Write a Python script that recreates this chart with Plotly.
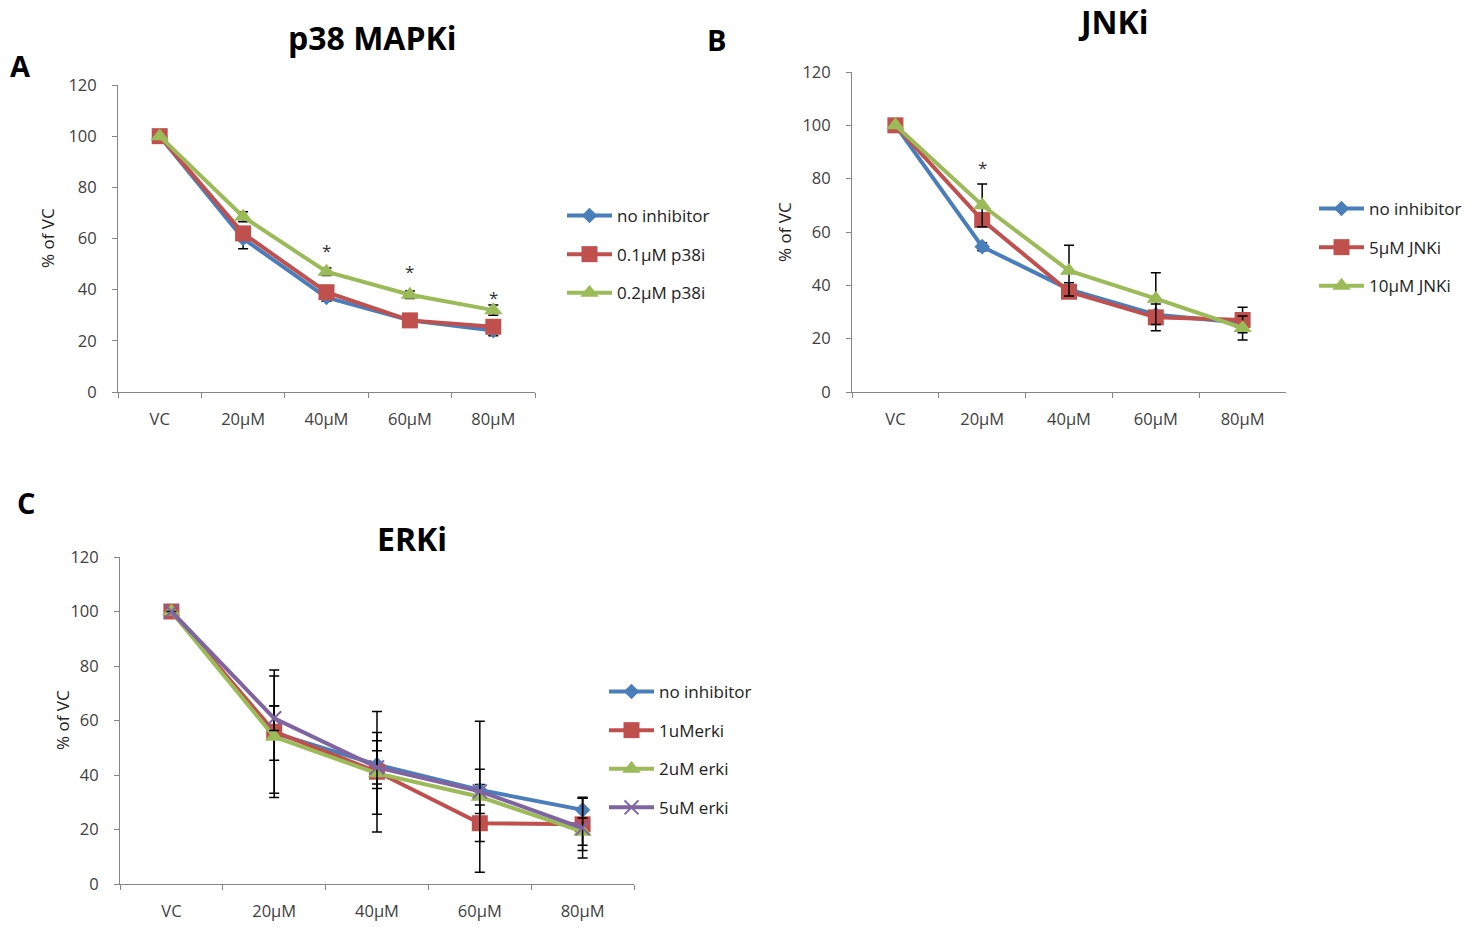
import plotly.graph_objects as go

W, H = 1481, 927

categories = ["VC", "20µM", "40µM", "60µM", "80µM"]

# Panel A: p38 MAPKi
a_names = ["no inhibitor", "0.1µM p38i", "0.2µM p38i"]
a_no_inh = [100, 60, 37, 28, 24]
a_no_inh_err = [0, 4, 1.5, 1, 2]
a_p38_01 = [100, 62, 39, 28, 25.5]
a_p38_01_err = [0, 2, 1.5, 1.5, 1.5]
a_p38_02 = [100, 68.5, 47, 38, 32]
a_p38_02_err = [0, 2, 1.5, 1.5, 2]
a_stars = [("40µM", 55.5), ("60µM", 47), ("80µM", 37)]

# Panel B: JNKi
b_names = ["no inhibitor", "5µM JNKi", "10µM JNKi"]
b_no_inh = [100, 54.5, 38.5, 29, 26]
b_no_inh_err = [0, 1.5, 2.5, 1.5, 1.5]
b_jnk_5 = [100, 64.5, 37.6, 28, 27]
b_jnk_5_err = [0, 2, 2, 5, 4.8]
b_jnk_10 = [100, 70, 45.5, 35, 24]
b_jnk_10_err = [0, 8, 9.5, 9.7, 4.5]
b_stars = [("20µM", 84)]

# Panel C: ERKi
c_names = ["no inhibitor", "1uMerki", "2uM erki", "5uM erki"]
c_no_inh = [100, 55.4, 43.8, 34.5, 27.2]
c_no_inh_err = [0, 10, 8.8, 2, 4.6]
c_erk_1 = [100, 55.9, 41.2, 22.3, 21.9]
c_erk_1_err = [0, 22.6, 22.1, 6.7, 9.6]
c_erk_2 = [100, 54, 40.6, 32, 19.2]
c_erk_2_err = [0, 22.3, 15, 27.7, 5]
c_erk_5 = [100, 60.8, 42.8, 34, 20.5]
c_erk_5_err = [0, 4.5, 6.1, 8.1, 11]

BLUE = "#4A7EBB"
RED = "#C0504D"
GREEN = "#9BBB59"
PURPLE = "#8064A2"
FONT = "Open Sans"

styles = [
    dict(color=BLUE, symbol="diamond", size=12),
    dict(color=RED, symbol="square", size=16),
    dict(color=GREEN, symbol="triangle-up", size=16),
    dict(color=PURPLE, symbol="x-thin", size=14),
]

fig = go.Figure()


def add_series(name, vals, errs, style, ax, legend, group):
    marker = dict(color=style["color"], symbol=style["symbol"], size=style["size"])
    if style["symbol"] == "x-thin":
        marker["line"] = dict(color=style["color"], width=2)
    fig.add_trace(go.Scatter(
        x=categories, y=vals, name=name, mode="lines+markers",
        line=dict(color=style["color"], width=4),
        marker=marker,
        error_y=dict(type="data", array=errs, visible=True, color="black",
                     thickness=1.5, width=5),
        xaxis="x" + ax, yaxis="y" + ax, legend=legend,
        legendgroup=legend + group, cliponaxis=False,
    ))


for i, (n, v, e) in enumerate(zip(a_names, [a_no_inh, a_p38_01, a_p38_02],
                                   [a_no_inh_err, a_p38_01_err, a_p38_02_err])):
    add_series(n, v, e, styles[i], "", "legend", str(i))
for i, (n, v, e) in enumerate(zip(b_names, [b_no_inh, b_jnk_5, b_jnk_10],
                                   [b_no_inh_err, b_jnk_5_err, b_jnk_10_err])):
    add_series(n, v, e, styles[i], "2", "legend2", str(i))
for i, (n, v, e) in enumerate(zip(c_names, [c_no_inh, c_erk_1, c_erk_2, c_erk_5],
                                   [c_no_inh_err, c_erk_1_err, c_erk_2_err, c_erk_5_err])):
    add_series(n, v, e, styles[i], "3", "legend3", str(i))


def px_x(p):
    return p / W


def px_y(p):
    return 1 - p / H


axis_common = dict(showline=True, linecolor="#868686", linewidth=1, ticks="outside",
                   tickcolor="#868686", ticklen=5, showgrid=False, zeroline=False,
                   automargin=False,
                   tickfont=dict(family=FONT, size=16.5, color="#404040"))


def xax(x0, x1, anchor):
    d = dict(axis_common)
    d.update(domain=[px_x(x0), px_x(x1)], type="category", range=[-0.5, 4.5],
             tickson="boundaries", anchor=anchor, fixedrange=True, ticklabelstandoff=12)
    return d


def yax(y0, y1, anchor):
    d = dict(axis_common)
    d.update(domain=[px_y(y1), px_y(y0)], range=[0, 120], dtick=20,
             anchor=anchor, fixedrange=True, ticklabelstandoff=12)
    return d


def legend_box(x, y):
    return dict(x=px_x(x), y=px_y(y), xanchor="left", yanchor="top",
                font=dict(family=FONT, size=17, color="#222222"),
                tracegroupgap=13.5, itemwidth=45, bgcolor="rgba(0,0,0,0)")


annotations = []
for txt, x, y, size in [("A", 20, 65, 29), ("B", 716, 40, 29), ("C", 26, 502, 29),
                        ("p38 MAPKi", 373, 37, 32), ("JNKi", 1113, 22, 32),
                        ("ERKi", 412, 538, 32)]:
    annotations.append(dict(text="<b>%s</b>" % txt, x=px_x(x), y=px_y(y), xref="paper",
                            yref="paper", showarrow=False, xanchor="center",
                            yanchor="middle", font=dict(family=FONT, size=size, color="black")))
for x, y in [(47, 238), (784, 232), (62, 720)]:
    annotations.append(dict(text="% of VC", x=px_x(x), y=px_y(y), xref="paper",
                            yref="paper", showarrow=False, textangle=-90,
                            xanchor="center", yanchor="middle",
                            font=dict(family=FONT, size=17, color="#222222")))
for cat, val in a_stars:
    annotations.append(dict(text="*", x=categories.index(cat), y=val, xref="x", yref="y",
                            showarrow=False, font=dict(family=FONT, size=17, color="#333333")))
for cat, val in b_stars:
    annotations.append(dict(text="*", x=categories.index(cat), y=val, xref="x2", yref="y2",
                            showarrow=False, font=dict(family=FONT, size=17, color="#333333")))

fig.update_layout(
    width=W, height=H, margin=dict(l=0, r=0, t=0, b=0, autoexpand=False),
    paper_bgcolor="white", plot_bgcolor="white",
    xaxis=xax(118, 535, "y"), yaxis=yax(85, 392, "x"),
    xaxis2=xax(852, 1286, "y2"), yaxis2=yax(72, 392, "x2"),
    xaxis3=xax(120, 634, "y3"), yaxis3=yax(557, 884, "x3"),
    legend=legend_box(562, 198),
    legend2=legend_box(1314, 191),
    legend3=legend_box(604, 674),
    annotations=annotations,
    showlegend=True,
)

fig.write_html("out.html", config={"displayModeBar": False},
               post_script="document.body.style.margin='0';document.body.style.overflow='hidden';")
